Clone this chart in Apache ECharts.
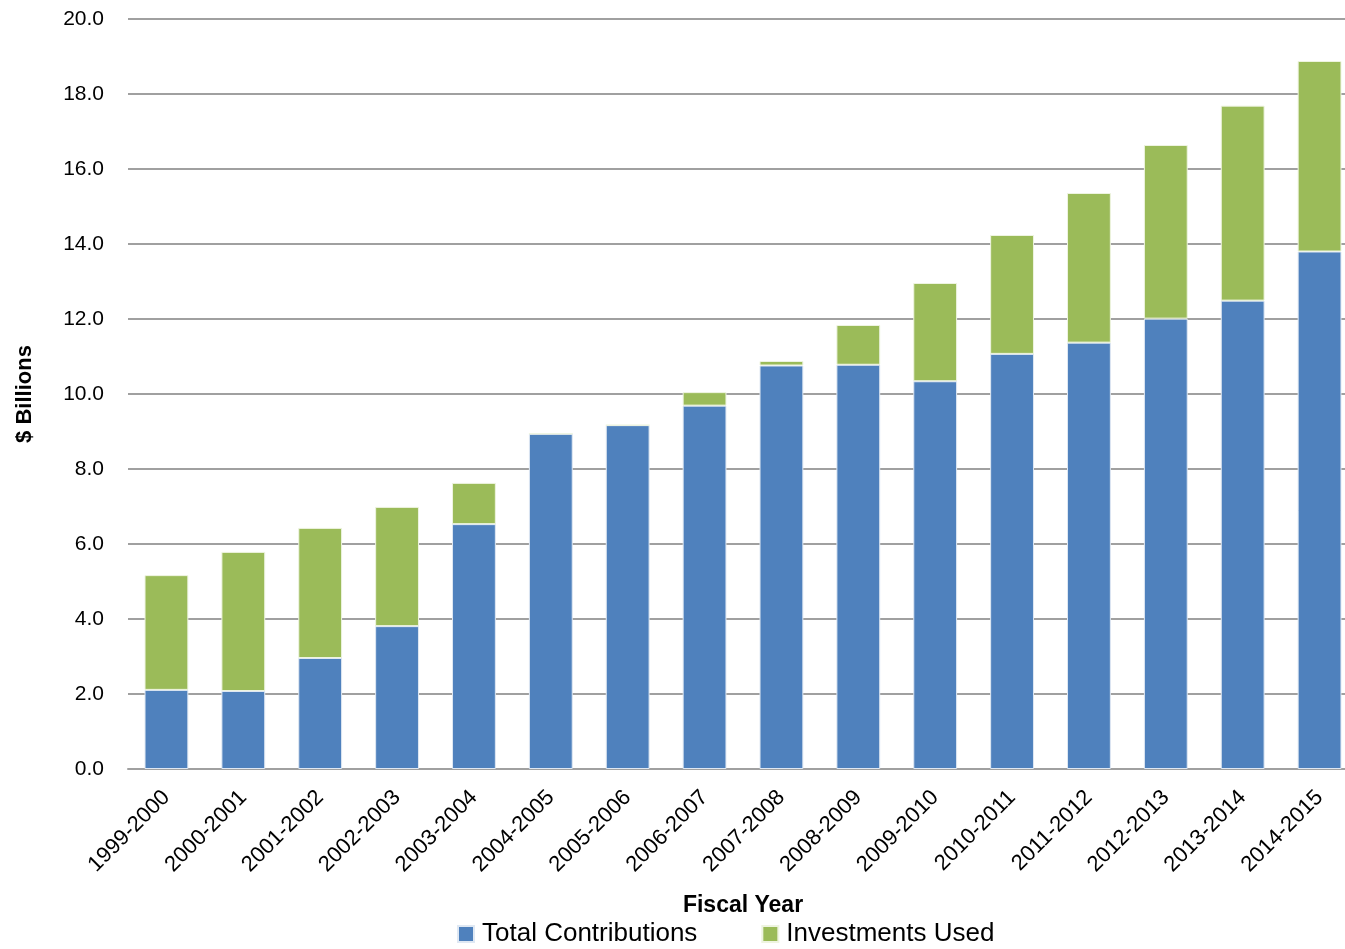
<!DOCTYPE html>
<html>
<head>
<meta charset="utf-8">
<script src="https://cdn.jsdelivr.net/npm/echarts@6/dist/echarts.min.js"></script>
<style>
html,body{margin:0;padding:0;background:#fff;}
#chart{width:1345px;height:949px;}
</style>
</head>
<body>
<div id="chart"></div>
<script>
const categories = ['1999-2000','2000-2001','2001-2002','2002-2003','2003-2004','2004-2005','2005-2006','2006-2007','2007-2008','2008-2009','2009-2010','2010-2011','2011-2012','2012-2013','2013-2014','2014-2015'];
const totalContributions = [2.11, 2.08, 2.96, 3.81, 6.53, 8.94, 9.17, 9.69, 10.76, 10.78, 10.34, 11.07, 11.37, 12.01, 12.49, 13.80];
const investmentsUsed = [3.06, 3.71, 3.47, 3.18, 1.10, 0, 0, 0.36, 0.12, 1.06, 2.62, 3.17, 3.99, 4.63, 5.20, 5.08];
const yTicks = {min: 0, max: 20, interval: 2};

const FN = '"Liberation Sans", Arial, sans-serif';
const chart = echarts.init(document.getElementById('chart'));
chart.setOption({
  animation: false,
  textStyle: {fontFamily: FN},
  grid: {left: 128, right: -13, top: 19, bottom: 180, containLabel: false, outerBoundsMode: 'none'},
  legend: {
    bottom: -3, left: 452,
    itemWidth: 16, itemHeight: 16, itemGap: 64,
    icon: 'rect',
    textStyle: {fontFamily: FN, fontSize: 26, color: '#000', padding: [0,0,0,3]},
    data: ['Total Contributions', 'Investments Used']
  },
  xAxis: {
    type: 'category',
    data: categories,
    name: 'Fiscal Year',
    nameLocation: 'middle',
    nameGap: 125,
    nameTextStyle: {fontFamily: FN, fontSize: 23, fontWeight: 'bold', color: '#000'},
    axisLine: {lineStyle: {color: '#a0a0a0', width: 2}},
    axisTick: {show: false},
    axisLabel: {rotate: 45, fontFamily: FN, fontSize: 22, color: '#000', margin: 25, interval: 0}
  },
  yAxis: {
    type: 'value',
    min: yTicks.min, max: yTicks.max, interval: yTicks.interval,
    name: '$ Billions',
    nameLocation: 'middle',
    nameGap: 92,
    nameRotate: 90,
    nameTextStyle: {fontFamily: FN, fontSize: 22, fontWeight: 'bold', color: '#000'},
    axisLine: {show: false},
    axisTick: {show: false},
    axisLabel: {fontFamily: FN, fontSize: 21, color: '#000', margin: 24, formatter: v => v.toFixed(1)},
    splitLine: {lineStyle: {color: '#a0a0a0', width: 2}}
  },
  series: [
    {
      name: 'Total Contributions', type: 'bar', stack: 'total',
      data: totalContributions, barWidth: '57%',
      itemStyle: {color: '#4F81BD', borderColor: '#dfe8f3', borderWidth: 1}
    },
    {
      name: 'Investments Used', type: 'bar', stack: 'total',
      data: investmentsUsed, barWidth: '57%',
      itemStyle: {color: '#9BBB59', borderColor: '#eef4e0', borderWidth: 1}
    }
  ]
});
</script>
</body>
</html>
